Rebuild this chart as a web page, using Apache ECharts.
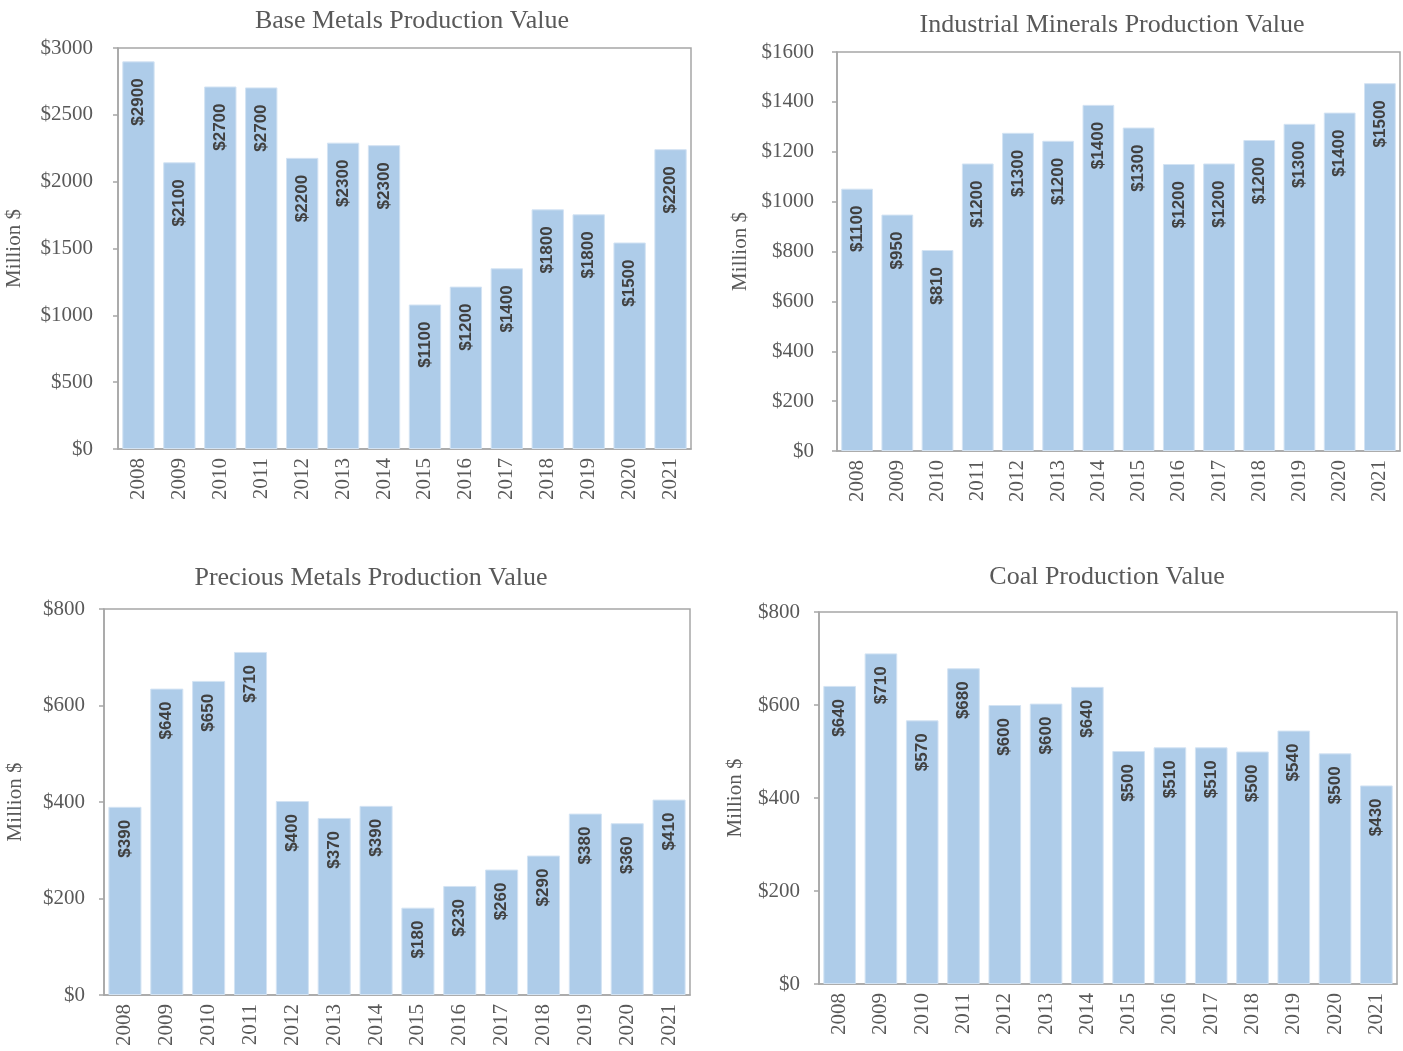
<!DOCTYPE html>
<html lang="en">
<head>
    <meta charset="UTF-8">
    <title>Production Value</title>
    <script src="https://cdn.jsdelivr.net/npm/echarts@6/dist/echarts.min.js"></script>
    <style>
        html, body {
            margin: 0;
            height: 100%;
            background: #fff;
        }
    </style>
</head>
<body>
<!--容器-->
<div id="main" style="width: 1403px;height: 1051px"></div>
</body>
</html>
<script>
    var years = ['2008', '2009', '2010', '2011', '2012', '2013', '2014', '2015', '2016', '2017', '2018', '2019', '2020', '2021'];

    // 数值 (million $)
    var baseMetals = [2900, 2145, 2712, 2705, 2178, 2292, 2273, 1081, 1215, 1352, 1793, 1756, 1545, 2243];
    var baseMetalsLabels = ['$2900', '$2100', '$2700', '$2700', '$2200', '$2300', '$2300', '$1100', '$1200', '$1400', '$1800', '$1800', '$1500', '$2200'];

    var industrialMinerals = [1052, 948, 806, 1153, 1276, 1244, 1388, 1297, 1151, 1153, 1247, 1312, 1357, 1475];
    var industrialMineralsLabels = ['$1100', '$950', '$810', '$1200', '$1300', '$1200', '$1400', '$1300', '$1200', '$1200', '$1200', '$1300', '$1400', '$1500'];

    var preciousMetals = [390, 635, 651, 711, 402, 367, 392, 181, 226, 260, 289, 376, 356, 405];
    var preciousMetalsLabels = ['$390', '$640', '$650', '$710', '$400', '$370', '$390', '$180', '$230', '$260', '$290', '$380', '$360', '$410'];

    var coal = [641, 711, 567, 679, 600, 603, 639, 501, 509, 509, 500, 545, 496, 427];
    var coalLabels = ['$640', '$710', '$570', '$680', '$600', '$600', '$640', '$500', '$510', '$510', '$500', '$540', '$500', '$430'];

    var panels = [
        {title: 'Base Metals Production Value', cx: 412, ty: 8, grid: [118, 48, 573, 401], max: 3000, step: 500, gap: 93, labelGap: 25, inset: 17, data: baseMetals, labels: baseMetalsLabels},
        {title: 'Industrial Minerals Production Value', cx: 1112, ty: 12, grid: [837, 52, 563, 399], max: 1600, step: 200, gap: 86, labelGap: 23, inset: 17, data: industrialMinerals, labels: industrialMineralsLabels},
        {title: 'Precious Metals Production Value', cx: 371, ty: 565, grid: [104, 609, 586, 386], max: 800, step: 200, gap: 78, labelGap: 19, inset: 13, data: preciousMetals, labels: preciousMetalsLabels},
        {title: 'Coal Production Value', cx: 1107, ty: 564, grid: [819, 612, 578, 372], max: 800, step: 200, gap: 73, labelGap: 19, inset: 13, data: coal, labels: coalLabels}
    ];

    var axisColor = '#A6A6A6';
    var textColor = '#595959';
    var serif = '"Liberation Serif", "DejaVu Serif", serif';

    var option = {
        backgroundColor: '#fff',
        animation: false,
        title: [], grid: [], xAxis: [], yAxis: [], series: []
    };

    panels.forEach(function (p, i) {
        option.title.push({
            text: p.title,
            left: p.cx,
            top: p.ty,
            padding: 0,
            textAlign: 'center',
            textStyle: {fontFamily: serif, fontSize: 26, fontWeight: 'normal', color: textColor}
        });
        option.grid.push({
            left: p.grid[0], top: p.grid[1], width: p.grid[2], height: p.grid[3],
            show: true, borderColor: axisColor, borderWidth: 1.5, backgroundColor: 'transparent'
        });
        option.xAxis.push({
            type: 'category',
            gridIndex: i,
            data: years,
            axisLine: {lineStyle: {color: axisColor, width: 1.5}},
            axisTick: {length: 5, lineStyle: {color: axisColor, width: 1.5}},
            axisLabel: {rotate: 90, margin: 9, interval: 0, fontFamily: serif, fontSize: 21, color: textColor}
        });
        option.yAxis.push({
            type: 'value',
            gridIndex: i,
            min: 0,
            max: p.max,
            interval: p.step,
            name: 'Million $',
            nameLocation: 'middle',
            nameGap: p.gap,
            nameRotate: 90,
            nameTextStyle: {fontFamily: serif, fontSize: 21, color: textColor},
            splitLine: {show: false},
            axisLine: {show: true, lineStyle: {color: axisColor, width: 1.5}},
            axisTick: {show: true, length: 5, lineStyle: {color: axisColor, width: 1.5}},
            axisLabel: {
                margin: p.labelGap, fontFamily: serif, fontSize: 21, color: textColor,
                formatter: function (v) { return '$' + v; }
            }
        });
        option.series.push({
            type: 'bar',
            xAxisIndex: i,
            yAxisIndex: i,
            data: p.data,
            barCategoryGap: '21%',
            itemStyle: {color: '#AECCE9', borderColor: '#D3E3F3', borderWidth: 1},
            label: {
                show: true,
                position: 'insideTop',
                distance: p.inset,
                rotate: 90,
                align: 'right',
                verticalAlign: 'middle',
                fontFamily: '"Liberation Sans", Arial, sans-serif',
                fontWeight: 'bold',
                fontSize: 17,
                color: '#404040',
                formatter: function (d) { return p.labels[d.dataIndex]; }
            }
        });
    });

    var myChart = echarts.init(document.getElementById('main'));
    myChart.setOption(option);
</script>
